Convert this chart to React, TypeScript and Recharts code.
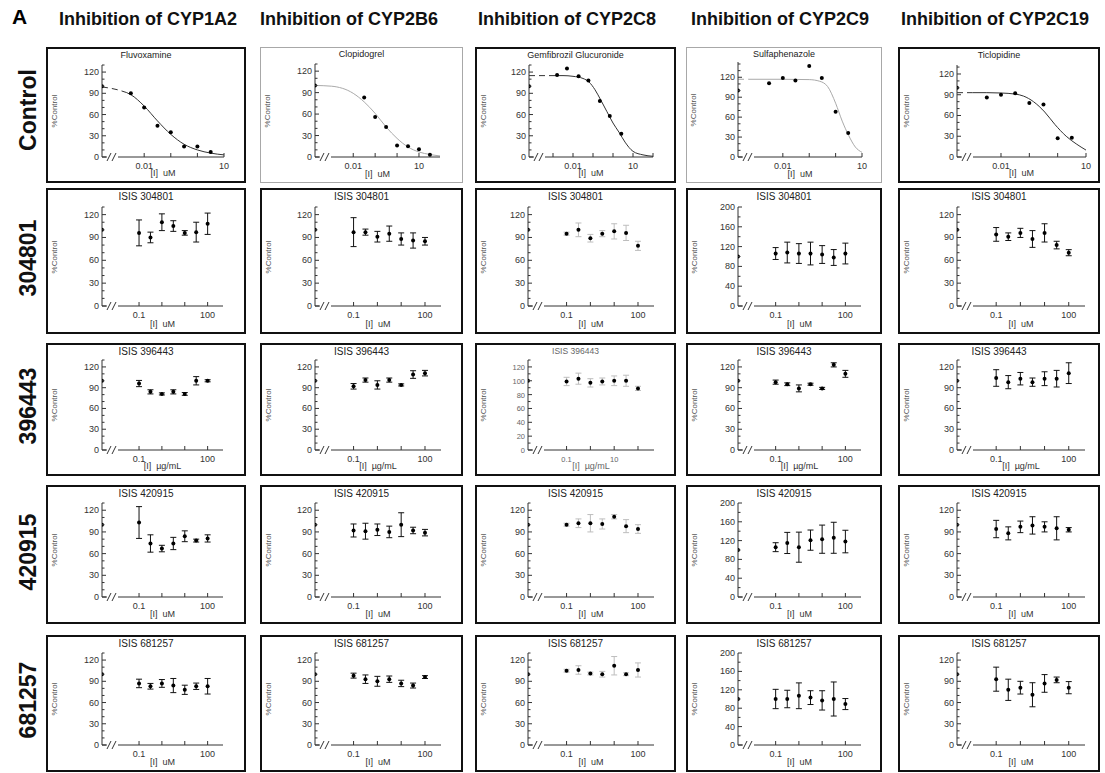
import { ComposedChart, Scatter, Line, XAxis, YAxis, ErrorBar } from 'recharts';

// ---- labels ----
const enzymes = ['Inhibition of CYP1A2', 'Inhibition of CYP2B6', 'Inhibition of CYP2C8', 'Inhibition of CYP2C9', 'Inhibition of CYP2C19'];
const rowLabels = ['Control', '304801', '396443', '420915', '681257'];
const controlDrugs = ['Fluvoxamine', 'Clopidogrel', 'Gemfibrozil Glucuronide', 'Sulfaphenazole', 'Ticlopidine'];
const isisTitles = ['ISIS 304801', 'ISIS 396443', 'ISIS 420915', 'ISIS 681257'];
const isisUnits = ['[I]  uM', '[I]  µg/mL', '[I]  uM', '[I]  uM'];

// ---- ticks ----
const controlXTicks = [0.01, 0.1, 1, 10];
const controlXLabels = ['0.01', '', '', '10'];
const gemXTicks = [0.001, 0.01, 0.1, 1, 10, 100];
const gemXLabels = ['', '0.01', '', '', '10', ''];
const isisXTicks = [0.1, 1, 10, 100];
const isisXLabels = ['0.1', '', '', '100'];
const ugXLabels = ['0.1', '', '10', ''];
const pctTicks = [0, 30, 60, 90, 120];
const pct200Ticks = [0, 40, 80, 120, 160, 200];
const pct20Ticks = [0, 20, 40, 60, 80, 100, 120];

const vehiclePct = 100;

// ---- control inhibitors (points + fitted curve) ----
const fluvoxConc = [0.00316, 0.01, 0.0316, 0.1, 0.316, 1, 3.16];
const fluvoxPct = [90, 70, 44, 35, 15, 15, 7];
const fluvoxFitConc = [0.00026, 0.001, 0.0022, 0.00316, 0.01, 0.0316, 0.1, 0.316, 1, 3.16, 10];
const fluvoxFitPct = [99, 95, 91, 88, 72, 51, 32, 18, 10, 5.5, 3];

const clopConc = [0.0316, 0.1, 0.316, 1, 3.16, 10, 31.6];
const clopPct = [83, 56, 42, 16, 15, 11, 3];
const clopFitConc = [0.00018, 0.001, 0.01, 0.0316, 0.1, 0.316, 1, 3.16, 10, 31.6, 91];
const clopFitPct = [100, 99, 89, 77, 61, 42, 26, 14, 7, 3.5, 1.5];

const gemConc = [0.0016, 0.005, 0.019, 0.059, 0.22, 0.69, 2.6];
const gemPct = [116, 125, 114, 108, 79, 58, 33];
const gemFitConc = [0.000063, 0.001, 0.00316, 0.01, 0.0316, 0.063, 0.126, 0.25, 0.5, 1, 2, 4, 10, 31.6, 100];
const gemFitPct = [115, 115, 115, 114, 111, 106, 95, 80, 64, 48, 35, 21, 8, 3, 1];

const sulfConc = [0.003, 0.01, 0.03, 0.1, 0.3, 1, 3];
const sulfPct = [111, 119, 115, 137, 119, 68, 36];
const sulfFitConc = [0.0002, 0.0005, 0.01, 0.1, 0.25, 0.5, 1, 1.78, 3.16, 5.6, 10];
const sulfFitPct = [117, 117, 117, 116.5, 114, 106, 81, 54, 32, 15, 7];

const ticlConc = [0.00316, 0.01, 0.0316, 0.1, 0.316, 1, 3.16];
const ticlPct = [86, 90, 92, 78, 76, 27, 28];
const ticlFitConc = [0.00028, 0.001, 0.00316, 0.01, 0.0316, 0.063, 0.14, 0.35, 0.8, 2, 4.5, 10];
const ticlFitPct = [93, 93, 93, 92.5, 91, 88, 80, 65, 47, 30, 19, 10];

// ---- ISIS compounds: mean and error per enzyme (1A2, 2B6, 2C8, 2C9, 2C19) ----
const isisConc = [0.1, 0.316, 1, 3.16, 10, 31.6, 100];

const mean304801 = [
  [96, 90, 110, 105, 96, 97, 108],
  [97, 97, 91, 95, 88, 86, 85],
  [95, 100, 89, 95, 98, 96, 79],
  [106, 108, 106, 106, 104, 98, 106],
  [94, 91, 96, 88, 96, 80, 70],
];
const err304801 = [
  [17, 7, 11, 7, 3, 13, 14],
  [19, 4, 7, 10, 8, 10, 5],
  [2, 9, 5, 4, 10, 10, 6],
  [12, 21, 20, 23, 18, 16, 21],
  [9, 5, 6, 11, 12, 5, 4],
];

const mean396443 = [
  [96, 84, 81, 84, 81, 100, 100],
  [92, 101, 94, 101, 94, 109, 111],
  [99, 103, 97, 99, 100, 100, 89],
  [98, 95, 89, 95, 89, 123, 110],
  [104, 98, 103, 98, 103, 103, 111],
];
const err396443 = [
  [4.5, 3, 1.5, 3, 2, 6, 1.5],
  [4, 3, 6, 3, 1.5, 5.5, 4],
  [6, 8, 6, 5, 7, 8, 3],
  [3, 2, 5, 1.5, 1.5, 3, 5],
  [12, 9.5, 9, 6, 10, 12, 15],
];

const mean420915 = [
  [103, 74, 67, 74, 84, 78, 81],
  [92, 91, 93, 90, 100, 92, 89],
  [100, 102, 102, 101, 111, 98, 94],
  [106, 115, 106, 121, 123, 126, 118],
  [94, 88, 97, 99, 97, 95, 93],
];
const err420915 = [
  [22, 12, 4.5, 8.5, 7.5, 2, 5],
  [9, 11, 8, 8, 16.5, 4.5, 4.5],
  [2, 6, 12, 7, 3, 9, 6],
  [9.5, 22.5, 32, 21.5, 30, 33, 24],
  [12, 9, 8, 12, 7, 16, 3],
];

const mean681257 = [
  [87, 83, 87, 84, 78, 83, 83],
  [98, 93, 90, 93, 87, 84, 96],
  [105, 106, 101, 100, 112, 100, 106],
  [100, 100, 107, 103, 97, 100, 89],
  [93, 78, 81, 71, 87, 92, 81],
];
const err681257 = [
  [6, 4, 5.5, 10, 6.5, 4.5, 11],
  [3.5, 6, 7, 4.5, 4.5, 3.5, 2],
  [2, 6, 2, 4, 13, 2, 10],
  [21, 19, 28, 15, 21, 37, 12],
  [17, 15, 9, 17, 12.5, 4, 8.6],
];

const isisMeans = [mean304801, mean396443, mean420915, mean681257];
const isisErrs = [err304801, err396443, err420915, err681257];

// ---- layout ----
const colBoxes = [
  { x: 46, w: 200 },
  { x: 260, w: 203 },
  { x: 475, w: 201 },
  { x: 686, w: 196 },
  { x: 898, w: 202 },
];
const rowBoxes = [
  { y: 47, h: 136 },
  { y: 188, h: 146 },
  { y: 343, h: 133 },
  { y: 485, h: 139 },
  { y: 635, h: 137 },
];
const headerX = [148, 349, 567, 780, 995];
const rowLabelY = [110, 258, 406, 552, 700];
const isisPlotSides = [
  [0.277, 0.107],
  [0.267, 0.1],
  [0.26, 0.1],
  [0.262, 0.1],
  [0.29, 0.065],
];

const FONT = '"Liberation Sans", Arial, Helvetica, sans-serif';
const INK = '#333';

type Spec = {
  title: string;
  unit: string;
  xMin: number;
  xMax: number;
  xTicks: number[];
  xLabels: string[];
  yMax: number;
  yTicks: number[];
  yMinor: number;
  conc: number[];
  pct: number[];
  err?: number[];
  fitConc?: number[];
  fitPct?: number[];
  dashUntil?: number;
  fitColor?: string;
  errColor?: string;
  thin?: boolean;
  left: number;
  right: number;
  top?: number;
  small?: boolean;
};

const dot = (p: any) => <circle cx={p.cx} cy={p.cy} r={2} fill="#000" />;

function Panel({ spec, x, y, w, h }: { spec: Spec; x: number; y: number; w: number; h: number }) {
  const bw = spec.thin ? 1 : 2;
  const cw = w - 2 * bw;
  const ch = h - 2 * bw;
  const left = Math.round(cw * spec.left);
  const right = Math.round(cw * spec.right);
  const top = Math.round(ch * (spec.top ?? 0.12));
  const axisH = Math.round(ch * 0.185);
  const plotW = cw - left - right;
  const decades = Math.log10(spec.xMax) - Math.log10(spec.xMin);
  const breakVal = spec.xMin * Math.pow(10, (11 / plotW) * decades);

  const points = [
    { x: spec.xMin, y: vehiclePct, err: 0 },
    ...spec.conc.map((c, i) => ({ x: c, y: spec.pct[i], err: spec.err ? spec.err[i] : 0 })),
  ];
  const fit = spec.fitConc ? spec.fitConc.map((c, i) => ({ x: c, y: spec.fitPct![i] })) : [];
  const dashN = spec.dashUntil ?? 0;
  const fitDashed = dashN > 0 ? fit.slice(0, dashN + 1) : [];
  const fitSolid = fit.slice(dashN);

  const yAll: number[] = [];
  for (let v = 0; v <= spec.yMax + 0.001; v += spec.yMinor) yAll.push(v);

  const tickFs = spec.small ? 7.5 : 9;
  const txtColor = spec.small ? '#666' : INK;

  const xTick = (p: any) => {
    const { x: tx, y: ty, index } = p;
    if (index === 0) {
      return (
        <g>
          <rect x={tx - 6} y={ty - 2} width={11} height={4} fill="#fff" />
          <line x1={tx - 6} y1={ty + 4} x2={tx - 2} y2={ty - 4} stroke={INK} />
          <line x1={tx - 1} y1={ty + 4} x2={tx + 3} y2={ty - 4} stroke={INK} />
        </g>
      );
    }
    const label = spec.xLabels[index - 1];
    return (
      <g>
        <line x1={tx} y1={ty} x2={tx} y2={ty - 4} stroke={INK} />
        {label ? (
          <text x={tx} y={ty + 12} textAnchor="middle" fontSize={tickFs} fill={txtColor} fontFamily={FONT}>
            {label}
          </text>
        ) : null}
      </g>
    );
  };

  const yTick = (p: any) => {
    const { x: tx, y: ty, payload } = p;
    const v = Math.round(payload.value);
    const major = spec.yTicks.includes(v);
    return (
      <g>
        <line x1={tx} y1={ty} x2={tx + (major ? 4 : 2.5)} y2={ty} stroke={INK} />
        {major ? (
          <text x={tx - 3} y={ty + 3} textAnchor="end" fontSize={tickFs} fill={txtColor} fontFamily={FONT}>
            {v}
          </text>
        ) : null}
      </g>
    );
  };

  return (
    <div
      style={{
        position: 'absolute',
        left: x,
        top: y,
        width: w,
        height: h,
        boxSizing: 'border-box',
        border: `${bw}px solid ${spec.thin ? '#a8a8a8' : '#111'}`,
        background: '#fff',
      }}
    >
      <div
        style={{
          position: 'absolute',
          left: 0,
          top: 1,
          width: cw,
          textAlign: 'center',
          fontSize: spec.small ? 8.5 : y < 100 ? 9 : 10,
          lineHeight: '11px',
          color: spec.small ? '#666' : '#222',
          fontFamily: FONT,
        }}
      >
        {spec.title}
      </div>
      <div
        style={{
          position: 'absolute',
          left: 7 - 30,
          top: top + (ch - axisH - top) / 2 - 5,
          width: 60,
          height: 10,
          lineHeight: '10px',
          textAlign: 'center',
          fontSize: 8,
          color: '#555',
          fontFamily: FONT,
          transform: 'rotate(-90deg)',
        }}
      >
        %Control
      </div>
      <div
        style={{
          position: 'absolute',
          left: left + plotW / 2 - 40,
          top: ch - 13,
          width: 80,
          textAlign: 'center',
          fontSize: 9,
          lineHeight: '11px',
          color: txtColor,
          fontFamily: FONT,
          whiteSpace: 'pre',
        }}
      >
        {spec.unit}
      </div>
      <ComposedChart width={cw} height={ch} margin={{ top, right, bottom: 0, left: 0 }}>
        <XAxis
          type="number"
          dataKey="x"
          scale="log"
          domain={[spec.xMin, spec.xMax]}
          allowDataOverflow
          ticks={[breakVal, ...spec.xTicks]}
          interval={0}
          tickSize={0}
          tickMargin={0}
          tickLine={false}
          tick={xTick}
          height={axisH}
          stroke={INK}
        />
        <YAxis
          type="number"
          dataKey="y"
          domain={[0, spec.yMax]}
          allowDataOverflow
          ticks={yAll}
          interval={0}
          tickSize={0}
          tickMargin={0}
          tickLine={false}
          tick={yTick}
          width={left}
          stroke={INK}
        />
        {fitDashed.length > 0 && (
          <Line
            data={fitDashed}
            dataKey="y"
            type="monotone"
            stroke={spec.fitColor}
            strokeWidth={1}
            strokeDasharray="6 4"
            dot={false}
            activeDot={false}
            isAnimationActive={false}
          />
        )}
        {fitSolid.length > 0 && (
          <Line
            data={fitSolid}
            dataKey="y"
            type="monotone"
            stroke={spec.fitColor}
            strokeWidth={1}
            dot={false}
            activeDot={false}
            isAnimationActive={false}
          />
        )}
        <Scatter data={points} dataKey="y" shape={dot} isAnimationActive={false}>
          {spec.err ? (
            <ErrorBar dataKey="err" direction="y" width={3} stroke={spec.errColor ?? '#111'} strokeWidth={1} />
          ) : null}
        </Scatter>
      </ComposedChart>
    </div>
  );
}

const controlSpecs: Spec[] = [
  {
    title: controlDrugs[0], unit: '[I]  uM', xMin: 0.00026, xMax: 10, xTicks: controlXTicks, xLabels: controlXLabels,
    yMax: 130, yTicks: pctTicks, yMinor: 10, conc: fluvoxConc, pct: fluvoxPct,
    fitConc: fluvoxFitConc, fitPct: fluvoxFitPct, dashUntil: 2, fitColor: '#333', left: 0.277, right: 0.104,
  },
  {
    title: controlDrugs[1], unit: '[I]  uM', xMin: 0.00018, xMax: 91, xTicks: controlXTicks, xLabels: controlXLabels,
    yMax: 130, yTicks: pctTicks, yMinor: 10, conc: clopConc, pct: clopPct,
    fitConc: clopFitConc, fitPct: clopFitPct, dashUntil: 0, fitColor: '#aaa', thin: true, left: 0.267, right: 0.107,
  },
  {
    title: controlDrugs[2], unit: '[I]  uM', xMin: 0.000063, xMax: 100, xTicks: gemXTicks, xLabels: gemXLabels,
    yMax: 130, yTicks: pctTicks, yMinor: 10, conc: gemConc, pct: gemPct,
    fitConc: gemFitConc, fitPct: gemFitPct, dashUntil: 1, fitColor: '#333', left: 0.265, right: 0.105,
  },
  {
    title: controlDrugs[3], unit: '[I]  uM', xMin: 0.0002, xMax: 10, xTicks: controlXTicks, xLabels: controlXLabels,
    yMax: 143, yTicks: pctTicks, yMinor: 10, conc: sulfConc, pct: sulfPct,
    fitConc: sulfFitConc, fitPct: sulfFitPct, dashUntil: 1, fitColor: '#aaa', thin: true, left: 0.262, right: 0.1, top: 0.105,
  },
  {
    title: controlDrugs[4], unit: '[I]  uM', xMin: 0.00028, xMax: 10, xTicks: controlXTicks, xLabels: controlXLabels,
    yMax: 133, yTicks: pctTicks, yMinor: 10, conc: ticlConc, pct: ticlPct,
    fitConc: ticlFitConc, fitPct: ticlFitPct, dashUntil: 1, fitColor: '#333', left: 0.29, right: 0.06,
  },
];

function isisSpec(r: number, c: number): Spec {
  const big = c === 3 && r !== 1;
  const small = c === 2 && r === 1;
  return {
    title: isisTitles[r],
    unit: isisUnits[r],
    xMin: 0.0024,
    xMax: 470,
    xTicks: isisXTicks,
    xLabels: small ? ugXLabels : isisXLabels,
    yMax: big ? 200 : 130,
    yTicks: big ? pct200Ticks : small ? pct20Ticks : pctTicks,
    yMinor: big ? 20 : 10,
    conc: isisConc,
    pct: isisMeans[r][c],
    err: isisErrs[r][c],
    errColor: c === 2 ? '#bdbdbd' : '#111',
    left: isisPlotSides[c][0],
    right: isisPlotSides[c][1],
    small,
  };
}

export default function App() {
  return (
    <div
      style={{
        position: 'absolute',
        left: 0,
        top: 0,
        width: 1105,
        height: 773,
        background: '#fff',
        fontFamily: FONT,
        overflow: 'hidden',
      }}
    >
      <svg width={1105} height={773} style={{ position: 'absolute', left: 0, top: 0 }}>
        <text x={12} y={24} fontSize={21} fontWeight="bold" fontFamily={FONT} fill="#000">
          A
        </text>
        {enzymes.map((e, i) => (
          <text key={e} x={headerX[i]} y={25} textAnchor="middle" fontSize={18} fontWeight="bold" fontFamily={FONT} fill="#111">
            {e}
          </text>
        ))}
        {rowLabels.map((r, i) => (
          <text
            key={r}
            transform={`translate(36, ${rowLabelY[i]}) rotate(-90)`}
            textAnchor="middle"
            fontSize={23}
            fontWeight="bold"
            fontFamily={FONT}
            fill="#111"
          >
            {r}
          </text>
        ))}
      </svg>
      {controlSpecs.map((s, c) => (
        <Panel key={`c${c}`} spec={s} x={colBoxes[c].x} y={rowBoxes[0].y} w={colBoxes[c].w} h={rowBoxes[0].h} />
      ))}
      {isisTitles.map((_, r) =>
        colBoxes.map((cb, c) => (
          <Panel key={`p${r}-${c}`} spec={isisSpec(r, c)} x={cb.x} y={rowBoxes[r + 1].y} w={cb.w} h={rowBoxes[r + 1].h} />
        ))
      )}
    </div>
  );
}
